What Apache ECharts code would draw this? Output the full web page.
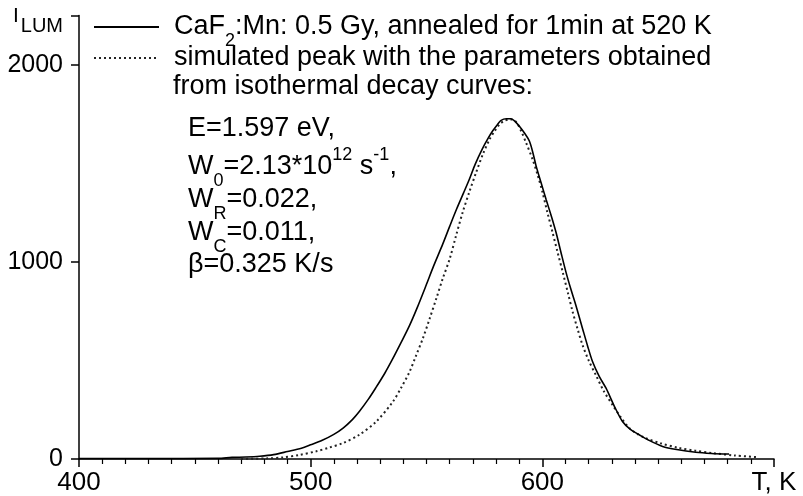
<!DOCTYPE html>
<html>
<head>
<meta charset="utf-8">
<script src="https://cdn.jsdelivr.net/npm/echarts@6/dist/echarts.min.js"></script>
<style>
html,body{margin:0;padding:0;background:#fff;}
#chart{width:803px;height:496px;}
</style>
</head>
<body>
<div id="chart"></div>
<script>
// ---- data ----
const measuredName = 'CaF2:Mn: 0.5 Gy, annealed for 1min at 520 K';
const simulatedName = 'simulated peak with the parameters obtained';
const tempMeasured = [400,430,460,466,472,478,484,490,496,500,505,510,514,518,521,525,528,532,535.5,539,542.7,546,549.8,553,557,560,563,566,568.5,571,574,576.5,578.6,580.5,582.2,584.5,586.5,588.3,590.1,592.2,594.4,596,597.3,599.5,601.6,603.8,605.9,608,610.2,612.3,614.5,617.4,619.5,621.7,624.5,627.5,631,634.6,638,641.8,646,651.9,658,666.2,673,680.6];
const lumMeasured  = [2,2,3,8,10,14,22,38,55,72,95,125,157,200,241,305,359,435,510,590,678,768,880,977,1090,1180,1268,1350,1419,1495,1571,1625,1665,1695,1718,1726,1726,1712,1688,1655,1613,1550,1487,1400,1318,1235,1150,1050,948,862,779,660,575,493,420,359,270,190,150,123,95,64,48,34,28,25];
const tempSimulated = [470,481,488,495,502.4,508,514,521,528.3,535.5,539,542.7,545.5,548.4,551.3,554.2,557,560,562.8,565.6,568.5,571.4,574.3,577.2,579.5,581.5,583.5,585.8,587.2,589,591,593,595.8,598,600.1,602.2,604.4,606.6,608.8,611,613.1,615.2,617.4,620,623.1,626.5,630.3,634,637.5,641,644.7,651,659,666,673.4,683,693.5];
const lumSimulated  = [0,3,8,20,39,58,81,123,190,291,360,443,525,611,710,813,915,1015,1135,1251,1355,1453,1545,1621,1665,1697,1715,1722,1722,1705,1660,1604,1520,1440,1352,1250,1150,1048,948,845,746,660,577,500,426,345,274,210,157,127,106,80,56,42,30,18,9];
const paramLines = [
  '{a|E=1.597 eV,}',
  '{a|W}{b|0}{a|=2.13*10}{p|12}{a| s}{p|-1}{a|,}',
  '{a|W}{b|R}{a|=0.022,}',
  '{a|W}{b|C}{a|=0.011,}',
  '{a|\u03B2=0.325 K/s}'
];
const paramTops = [113, 151, 184, 217, 249];

const FONT = 'Liberation Sans, Arial, sans-serif';
const rich = {
  g: {width: 10, fontSize: 27, fontFamily: FONT, lineHeight: 31},
  a: {fontSize: 27, fontFamily: FONT, lineHeight: 31, fill: '#000', color: '#000'},
  b: {fontSize: 18, fontFamily: FONT, height: 2, verticalAlign: 'bottom', fill: '#000', color: '#000'},
  p: {fontSize: 18, fontFamily: FONT, height: 9, verticalAlign: 'top', fill: '#000', color: '#000'}
};

const zip = (xs, ys) => xs.map((x, i) => [x, ys[i]]);

const chart = echarts.init(document.getElementById('chart'), null, {renderer: 'canvas'});

const graphics = [
  {type: 'text', x: 13, y: 16, style: {text: 'I', fontSize: 21, fontFamily: FONT, fill: '#000', verticalAlign: 'middle', align: 'left'}},
  {type: 'text', x: 63, y: 26.5, style: {text: 'LUM', fontSize: 20, fontFamily: FONT, fill: '#000', verticalAlign: 'middle', align: 'right'}},
  {type: 'text', x: 173, y: 71, style: {text: '{a|from isothermal decay curves:}', rich: rich, lineHeight: 31, verticalAlign: 'top'}}
];
paramLines.forEach((t, i) => {
  graphics.push({type: 'text', x: 188, y: paramTops[i], style: {text: t, rich: rich, lineHeight: 31, verticalAlign: 'top'}});
});

chart.setOption({
  animation: false,
  backgroundColor: '#fff',
  grid: {left: 79, right: 29, top: 15.5, bottom: 35, containLabel: false},
  legend: {
    left: 93, top: 11.5, orient: 'vertical', padding: 0, itemGap: -8,
    itemWidth: 65, itemHeight: 14, selectedMode: false,
    data: [measuredName, simulatedName],
    itemStyle: {opacity: 0, color: 'rgba(0,0,0,0)', borderWidth: 0},
    formatter: function (name) {
      if (name === measuredName) return '{g| }{a|CaF}{b|2}{a|:Mn: 0.5 Gy, annealed for 1min at 520 K}';
      return '{g| }{a|' + name + '}';
    },
    textStyle: {fontFamily: FONT, fontSize: 27, color: '#000', lineHeight: 31, rich: rich}
  },
  xAxis: {
    type: 'value', min: 400, max: 700, interval: 100,
    axisLine: {show: true, onZero: false, lineStyle: {color: '#000', width: 1.5}},
    axisTick: {show: true, inside: false, length: 8, lineStyle: {color: '#000', width: 1.5}},
    minorTick: {show: true, splitNumber: 10, length: 5, lineStyle: {color: '#000', width: 1.2}},
    splitLine: {show: false}, minorSplitLine: {show: false},
    axisLabel: {
      margin: 11, fontSize: 26, fontFamily: FONT, color: '#000',
      showMinLabel: true, showMaxLabel: true,
      formatter: v => (v === 700 ? 'T, K' : String(v))
    }
  },
  yAxis: {
    type: 'value', min: 0, max: 2250, interval: 1000,
    axisLine: {show: true, onZero: false, lineStyle: {color: '#000', width: 1.5}},
    axisTick: {show: true, inside: false, length: 8, lineStyle: {color: '#000', width: 1.5}},
    splitLine: {show: false},
    axisLabel: {
      margin: 16, fontSize: 25, fontFamily: FONT, color: '#000',
      formatter: v => (v === 2250 ? '' : String(v))
    }
  },
  series: [
    {
      name: measuredName, type: 'line', symbol: 'none', smooth: 0.3,
      data: zip(tempMeasured, lumMeasured),
      lineStyle: {color: '#000', width: 1.6, type: 'solid'},
      itemStyle: {color: '#000'}, z: 3
    },
    {
      name: simulatedName, type: 'line', symbol: 'none', smooth: 0.3,
      data: zip(tempSimulated, lumSimulated),
      lineStyle: {color: '#222', width: 2, type: [2, 3]},
      itemStyle: {color: '#222'}, z: 2
    }
  ],
  graphic: graphics
});
</script>
</body>
</html>
